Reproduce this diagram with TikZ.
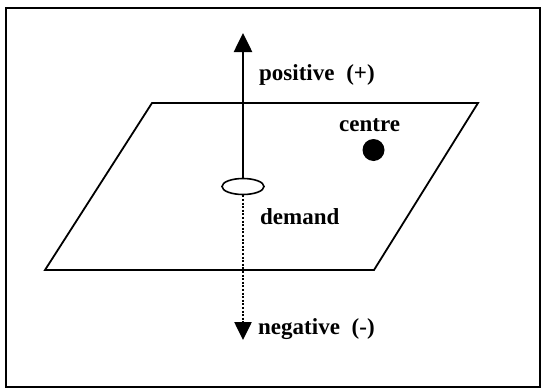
\documentclass[tikz,border=0pt]{standalone}
\usepackage{fontspec}
\setmainfont{Liberation Serif}
\usetikzlibrary{arrows.meta,shapes.geometric}
\tikzset{
  lbl/.style={font=\fontsize{23}{26}\selectfont\bfseries, inner sep=0pt, anchor=base west},
  axis/.style={line width=2.6pt, -{Triangle[width=18pt,length=19pt]}},
  dotaxis/.style={line width=2.6pt, dash pattern=on 2pt off 1.6pt, -{Triangle[width=17pt,length=18pt]}},
  plane/.style={line width=1.8pt, line join=miter},
}
\begin{document}
\begin{tikzpicture}[x=1pt,y=-1pt]
\useasboundingbox (0,0) rectangle (541,388);
% frame
\draw[line width=2pt] (5.5,7.5) rectangle (540,386.5);
% plane
\coordinate (p1) at (45,270);
\coordinate (p2) at (374,270);
\coordinate (p3) at (478,103);
\coordinate (p4) at (152,103);
\draw[plane] (p1) -- (p2) -- (p3) -- (p4) -- cycle;
% demand ellipse
\node[draw, line width=1.6pt, ellipse, minimum width=42pt, minimum height=16pt, inner sep=0pt, fill=white] (dem) at (243,186.5) {};
\coordinate (top) at (243,33);
\coordinate (bot) at (243,340);
\draw[axis] (dem.north) -- (top);
\draw[dotaxis] (dem.south) -- (bot);
% centre dot
\node[circle, fill=black, minimum size=22pt, inner sep=0pt] (cdot) at (373.5,150) {};
% labels
\node[lbl] (pos) at (259,80) {positive\hspace{6pt} (+)};
\node[lbl] (cen) at (339,131) {centre};
\node[lbl] (dmd) at (260,224) {demand};
\node[lbl] (neg) at (258,334) {negative\hspace{6pt} (-)};
\end{tikzpicture}
\end{document}
